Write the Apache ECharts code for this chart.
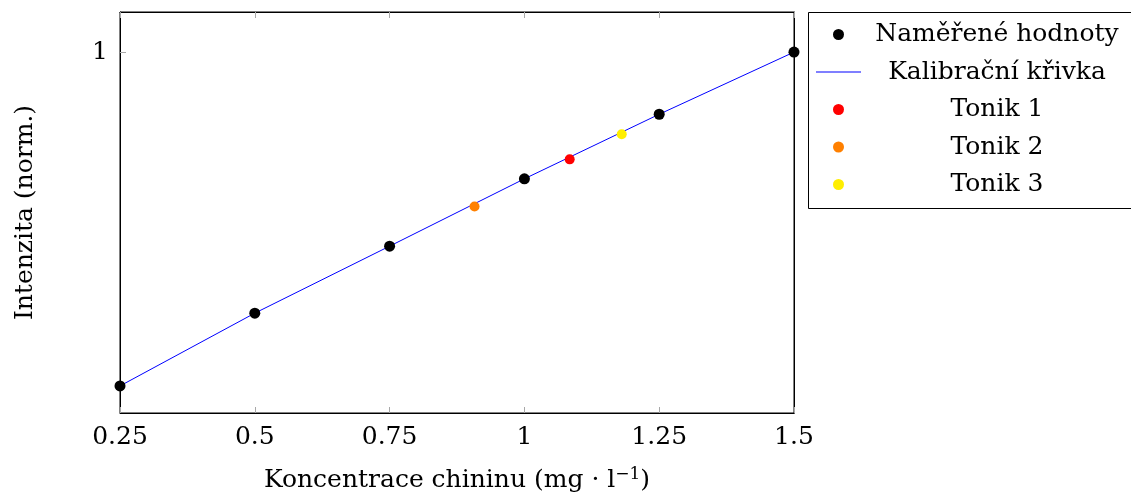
<!DOCTYPE html>
<html>
<head>
<meta charset="utf-8">
<script src="https://cdn.jsdelivr.net/npm/echarts@6/dist/echarts.min.js"></script>
<style>html,body{margin:0;padding:0;background:#fff}#c{width:1131px;height:498px}</style>
</head>
<body>
<div id="c"></div>
<script>
// Data
const measuredX = [0.25, 0.5, 0.75, 1.0, 1.25, 1.5];
const measuredY = [0.1675, 0.349, 0.516, 0.684, 0.845, 1.0];
const curveX = [0.25, 0.5, 0.75, 1.0, 1.25, 1.5];
const curveY = [0.1675, 0.349, 0.516, 0.684, 0.845, 1.0];
const tonik1 = [[1.084, 0.7325]];
const tonik2 = [[0.9075, 0.615]];
const tonik3 = [[1.1805, 0.795]];
const xTicks = [0.25, 0.5, 0.75, 1, 1.25, 1.5];
const yTicks = [1];

const FONT = 'DejaVu Serif';
const FS = 25;
const chart = echarts.init(document.getElementById('c'), null, {renderer: 'canvas'});
const tickStyle = {show: true, inside: true, length: 6, lineStyle: {color: '#a8a8a8', width: 1}};
const lineStyle = {show: true, lineStyle: {color: '#000', width: 1}};
const zip = (a, b) => a.map((v, i) => [v, b[i]]);

chart.setOption({
  animation: false,
  backgroundColor: '#fff',
  textStyle: {fontFamily: FONT},
  grid: {left: 120, right: 337, top: 12, bottom: 85, show: true, borderColor: '#000', borderWidth: 1},
  graphic: [{
    type: 'rect', left: 808, top: 12, z: -1, silent: true,
    shape: {width: 340, height: 196},
    style: {fill: '#fff', stroke: '#000', lineWidth: 1}
  }],
  xAxis: [{
    type: 'value', min: 0.25, max: 1.5, interval: 0.25,
    axisLine: lineStyle, axisTick: tickStyle, splitLine: {show: false},
    axisLabel: {fontFamily: FONT, fontSize: FS, color: '#000', margin: 12,
      customValues: xTicks, formatter: v => String(+v.toFixed(2))},
    name: 'Koncentrace chininu (mg · l{sup|−1})',
    nameLocation: 'middle', nameGap: 53,
    nameTextStyle: {fontFamily: FONT, fontSize: FS, color: '#000',
      rich: {sup: {fontFamily: FONT, fontSize: 17, color: '#000', verticalAlign: 'top', padding: [0, 0, 12, 0]}}}
  }, {
    type: 'value', position: 'top', min: 0.25, max: 1.5, interval: 0.25,
    axisLine: lineStyle, axisTick: tickStyle, axisLabel: {show: false}, splitLine: {show: false}
  }],
  yAxis: [{
    type: 'value', min: 0.1, max: 1.1, interval: 0.1,
    axisLine: lineStyle,
    axisTick: Object.assign({customValues: yTicks}, tickStyle),
    splitLine: {show: false},
    axisLabel: {fontFamily: FONT, fontSize: FS, color: '#000', margin: 12,
      customValues: yTicks, formatter: v => String(+v.toFixed(2))},
    name: 'Intenzita (norm.)', nameLocation: 'middle', nameGap: 82,
    nameTextStyle: {fontFamily: FONT, fontSize: FS, color: '#000'}
  }, {
    type: 'value', position: 'right', min: 0.1, max: 1.1, interval: 0.1,
    axisLine: lineStyle,
    axisTick: Object.assign({customValues: yTicks}, tickStyle),
    axisLabel: {show: false}, splitLine: {show: false}
  }],
  legend: {
    orient: 'vertical', left: 808, top: 12,
    backgroundColor: 'transparent', borderWidth: 0,
    padding: [10, 8, 10, 8], itemGap: 12.5, itemWidth: 45, itemHeight: 11,
    textStyle: {fontFamily: FONT, fontSize: FS, color: '#000',
      rich: {t: {width: 262, align: 'center', padding: [0, 14, 0, 0], fontFamily: FONT, fontSize: FS, color: '#000'}}},
    formatter: n => '{t|' + n + '}',
    data: [
      {name: 'Naměřené hodnoty', icon: 'circle'},
      {name: 'Kalibrační křivka', icon: 'path://M0,0 L45,0 L45,1 L0,1 Z', itemStyle: {color: '#0000ff'}},
      {name: 'Tonik 1', icon: 'circle'},
      {name: 'Tonik 2', icon: 'circle'},
      {name: 'Tonik 3', icon: 'circle'}
    ]
  },
  series: [
    {name: 'Kalibrační křivka', type: 'line', data: zip(curveX, curveY), showSymbol: false, symbol: 'none',
      lineStyle: {color: '#0000ff', width: 1}, itemStyle: {color: '#0000ff'}, z: 2},
    {name: 'Naměřené hodnoty', type: 'scatter', data: zip(measuredX, measuredY), symbolSize: 11,
      itemStyle: {color: '#000', opacity: 1}, z: 3, clip: false},
    {name: 'Tonik 1', type: 'scatter', data: tonik1, symbolSize: 10, itemStyle: {color: '#ff0000', opacity: 1}, z: 3},
    {name: 'Tonik 2', type: 'scatter', data: tonik2, symbolSize: 10, itemStyle: {color: '#ff8000', opacity: 1}, z: 3},
    {name: 'Tonik 3', type: 'scatter', data: tonik3, symbolSize: 10, itemStyle: {color: '#ffee00', opacity: 1}, z: 3}
  ]
});
</script>
</body>
</html>
